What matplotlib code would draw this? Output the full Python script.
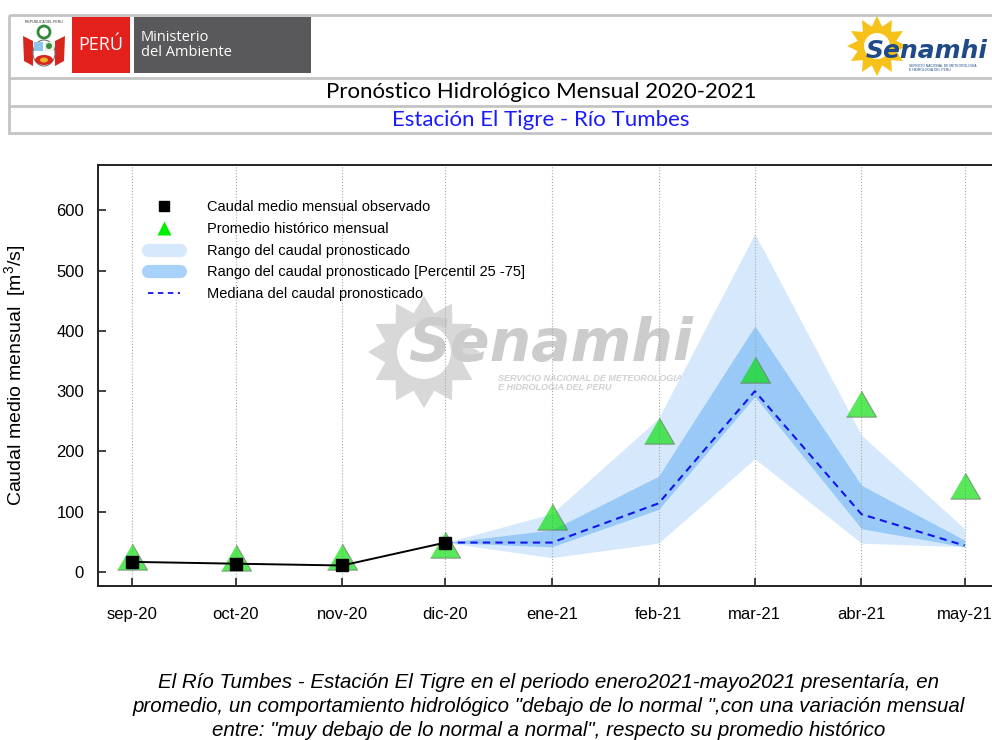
import numpy as np
import matplotlib
matplotlib.use('Agg')
import matplotlib.pyplot as plt
from matplotlib.patches import Rectangle, Polygon, Circle, Ellipse
from matplotlib.lines import Line2D
from datetime import datetime

#----------------------------------------------------------------------------
# Data
#----------------------------------------------------------------------------

MONTHS       = ['2020-09-01', '2020-10-01', '2020-11-01', '2020-12-01', '2021-01-01',
                '2021-02-01', '2021-03-01', '2021-04-01', '2021-05-01']
MONTH_LABELS = ['sep-20', 'oct-20', 'nov-20', 'dic-20', 'ene-21',
                'feb-21', 'mar-21', 'abr-21', 'may-21']

OBS_Q  = [17, 14, 11, 49]                              # sep-20 .. dic-20
HIST_Q = [18, 16, 18, 38, 85, 227, 328, 272, 136]      # historical mean

# forecast, dic-20 .. may-21
FC_MIN = [49, 24, 48, 188, 48, 42]
FC_MAX = [49, 97, 255, 561, 227, 72]
FC_P25 = [49, 42, 104, 291, 72, 42]
FC_P75 = [49, 70, 159, 408, 144, 53]
FC_MED = [49, 49, 114, 300, 96, 44]

FOOTER = [
    'El Río Tumbes - Estación El Tigre en el periodo enero2021-mayo2021 presentaría, en',
    'promedio, un comportamiento hidrológico "debajo de lo normal ",con una variación mensual',
    'entre: "muy debajo de lo normal a normal", respecto su promedio histórico',
]

#----------------------------------------------------------------------------
# Style
#----------------------------------------------------------------------------

COLORS = {
    'light' : '#d6e9fc',
    'mid'   : '#98c9f7',
    'med'   : '#1414ee',
    'hist'  : '#00dd00',
    'wm'    : '#d8d8d8',
    'sun'   : '#f6c21a',
    'navy'  : '#1f4a87',
}

plt.rcParams.update({
    'font.family'     : ['Liberation Sans', 'DejaVu Sans'],
    'mathtext.fontset': 'custom',
    'mathtext.rm'     : 'Liberation Sans',
    'mathtext.it'     : 'Liberation Sans:italic',
})

W, H = 992, 740
fig = plt.figure(figsize=(W / 100, H / 100), dpi=100)


def px(x, y):
    """pixel (from top-left) -> figure fraction"""
    return x / W, 1 - y / H


def draw_sun(ax, cx, cy, r_out, r_in, r_hole, color, n=12):
    ang = np.linspace(0, 2 * np.pi, 2 * n, endpoint=False) + np.pi / 2
    rad = np.where(np.arange(2 * n) % 2 == 0, r_out, r_in)
    pts = np.column_stack([cx + rad * np.cos(ang), cy - rad * np.sin(ang)])
    ax.add_patch(Polygon(pts, closed=True, fc=color, ec='none'))
    ax.add_patch(Circle((cx, cy), r_hole, fc='white', ec='none'))


#----------------------------------------------------------------------------
# Background layer in pixel coords: header box, logos, watermark
#----------------------------------------------------------------------------

bg = fig.add_axes([0, 0, 1, 1], zorder=0)
bg.set_xlim(0, W)
bg.set_ylim(H, 0)
bg.axis('off')

# header box
bg.add_patch(Rectangle((9, 15), 1100, 118, fc='none', ec='#c4c4c4', lw=2))
for yy in (78, 106):
    bg.plot([9, W + 10], [yy, yy], color='#c4c4c4', lw=2)

# coat of arms (rough)
bg.add_patch(Polygon([(23, 36), (33, 41), (33, 66), (24, 61)], fc='#d7261e', ec='none'))
bg.add_patch(Polygon([(65, 36), (55, 41), (55, 66), (64, 61)], fc='#d7261e', ec='none'))
bg.add_patch(Circle((44, 32), 6, fc='none', ec='#2f8a3b', lw=2))
bg.add_patch(Ellipse((44, 53), 22, 26, fc='white', ec='#777777', lw=0.8))
bg.add_patch(Rectangle((34, 42), 9, 9, fc='#8cc6e8', ec='none'))
bg.add_patch(Rectangle((45, 42), 9, 9, fc='#e8f2e0', ec='none'))
bg.add_patch(Circle((49, 46), 3, fc='#3a8f3e', ec='none'))
bg.add_patch(Ellipse((44, 60), 18, 10, fc='#d7261e', ec='none'))
bg.add_patch(Ellipse((44, 60), 8, 5, fc='#e6b422', ec='none'))
bg.text(44, 22, 'REPUBLICA DEL PERU', fontsize=2.5, ha='center', va='center', color='#333333')

# PERU / Ministerio del Ambiente
bg.add_patch(Rectangle((72, 17), 58, 56, fc='#e3201b', ec='none'))
bg.text(101, 45, 'PERÚ', color='white', fontsize=13, ha='center', va='center',
        family=['Open Sans', 'DejaVu Sans'])
bg.add_patch(Rectangle((134, 17), 177, 56, fc='#59595b', ec='none'))
bg.text(141, 45, 'Ministerio\ndel Ambiente', color='white', fontsize=10.5,
        ha='left', va='center', linespacing=0.95, family=['Open Sans', 'DejaVu Sans'])

# Senamhi logo (header)
draw_sun(bg, 877, 46, 30, 20, 13, COLORS['sun'])
bg.text(866, 58, 'Senamhi', color=COLORS['navy'], fontsize=18, fontweight='bold',
        style='oblique', family='DejaVu Sans', ha='left', va='baseline')
bg.text(909, 68, 'SERVICIO NACIONAL DE METEOROLOGIA\nE HIDROLOGIA DEL PERU',
        color=COLORS['navy'], fontsize=2.4, ha='left', va='center', linespacing=1.1)

# titles
bg.text(541, 92, 'Pronóstico Hidrológico Mensual 2020-2021', fontsize=16,
        ha='center', va='center', family=['Lato', 'DejaVu Sans'], color='black')
bg.text(541, 120, 'Estación El Tigre - Río Tumbes', fontsize=16,
        ha='center', va='center', family=['Lato', 'DejaVu Sans'], color='#1a1aff')

# watermark
draw_sun(bg, 424, 352, 56, 40, 27, COLORS['wm'])
bg.text(408, 361, 'Senamhi', color='#cccccc', fontsize=42, fontweight='bold',
        style='oblique', family='DejaVu Sans', ha='left', va='baseline')
bg.text(498, 383, 'SERVICIO NACIONAL DE METEOROLOGIA\nE HIDROLOGIA DEL PERU',
        color='#d0d0d0', fontsize=6.5, fontweight='bold', style='italic',
        ha='left', va='center', linespacing=1.0)

#----------------------------------------------------------------------------
# Main chart
#----------------------------------------------------------------------------

dates    = [datetime.strptime(m, '%Y-%m-%d') for m in MONTHS]
obs_x    = dates[:len(OBS_Q)]
fc_x     = dates[3:]

x0, y_top = px(98, 165)
_, y_bot  = px(98, 586)
ax = fig.add_axes([x0, y_bot, (1030 - 98) / W, y_top - y_bot], zorder=1)
ax.patch.set_alpha(0)

ax.fill_between(fc_x, FC_MIN, FC_MAX, color=COLORS['light'], lw=0, zorder=1)
ax.fill_between(fc_x, FC_P25, FC_P75, color=COLORS['mid'], lw=0, zorder=1.2)
ax.plot(fc_x, FC_MED, color=COLORS['med'], lw=1.5, ls=(0, (3.5, 2.5)), zorder=3)

# equilateral triangle centred on its centroid
tri = [(-1, -0.577), (1, -0.577), (0, 1.155)]
ax.plot(dates, HIST_Q, ls='none', marker=tri, ms=25, color=COLORS['hist'],
        alpha=0.65, mec='#6e6e6e', mew=0.8, zorder=4)
ax.plot(obs_x, OBS_Q, color='black', lw=1.4, marker='s', ms=9, zorder=5)

ax.set_xlim(datetime(2020, 8, 22), datetime(2021, 5, 20))
ax.set_ylim(-23, 675)
ax.set_xticks(dates)
ax.set_xticklabels(MONTH_LABELS)
ax.set_yticks(np.arange(0, 601, 100))

ax.grid(axis='x', ls=':', color='#a8a8a8', lw=0.8)
ax.set_axisbelow(False)
for sp in ax.spines.values():
    sp.set_linewidth(1.4)
    sp.set_color('#222222')
ax.tick_params(axis='both', direction='in', length=6, width=1.2, labelsize=12, colors='#222222')
ax.tick_params(axis='y', pad=10)
ax.tick_params(axis='x', pad=15)
for lbl in ax.get_xticklabels() + ax.get_yticklabels():
    lbl.set_color('black')

ax.set_ylabel('Caudal medio mensual  [m$^{3}$/s]', fontsize=14)
ax.yaxis.set_label_coords((28 - 98) / (1030 - 98), 0.5)

# legend
handles = [
    Line2D([], [], ls='none', marker='s', color='black', ms=7),
    Line2D([], [], ls='none', marker='^', color='#00ee00', mec='none', ms=10),
    Line2D([], [], color=COLORS['light'], lw=9.5, solid_capstyle='round'),
    Line2D([], [], color='#a9d2fb', lw=9.5, solid_capstyle='round'),
    Line2D([], [], color=COLORS['med'], lw=1.3, ls=(0, (3, 2.5))),
]
labels = ['Caudal medio mensual observado', 'Promedio histórico mensual',
          'Rango del caudal pronosticado', 'Rango del caudal pronosticado [Percentil 25 -75]',
          'Mediana del caudal pronosticado']
fig.legend(handles, labels, loc='upper left', bbox_to_anchor=px(141, 193),
           frameon=False, fontsize=10.5, borderpad=0, handlelength=2.2,
           handletextpad=1.8, labelspacing=0.53)

# footer
for i, line in enumerate(FOOTER):
    fig.text(*px(549, 683 + 24 * i), line, ha='center', va='center',
             style='italic', fontsize=14.8)

fig.savefig('out.png', dpi=100)
